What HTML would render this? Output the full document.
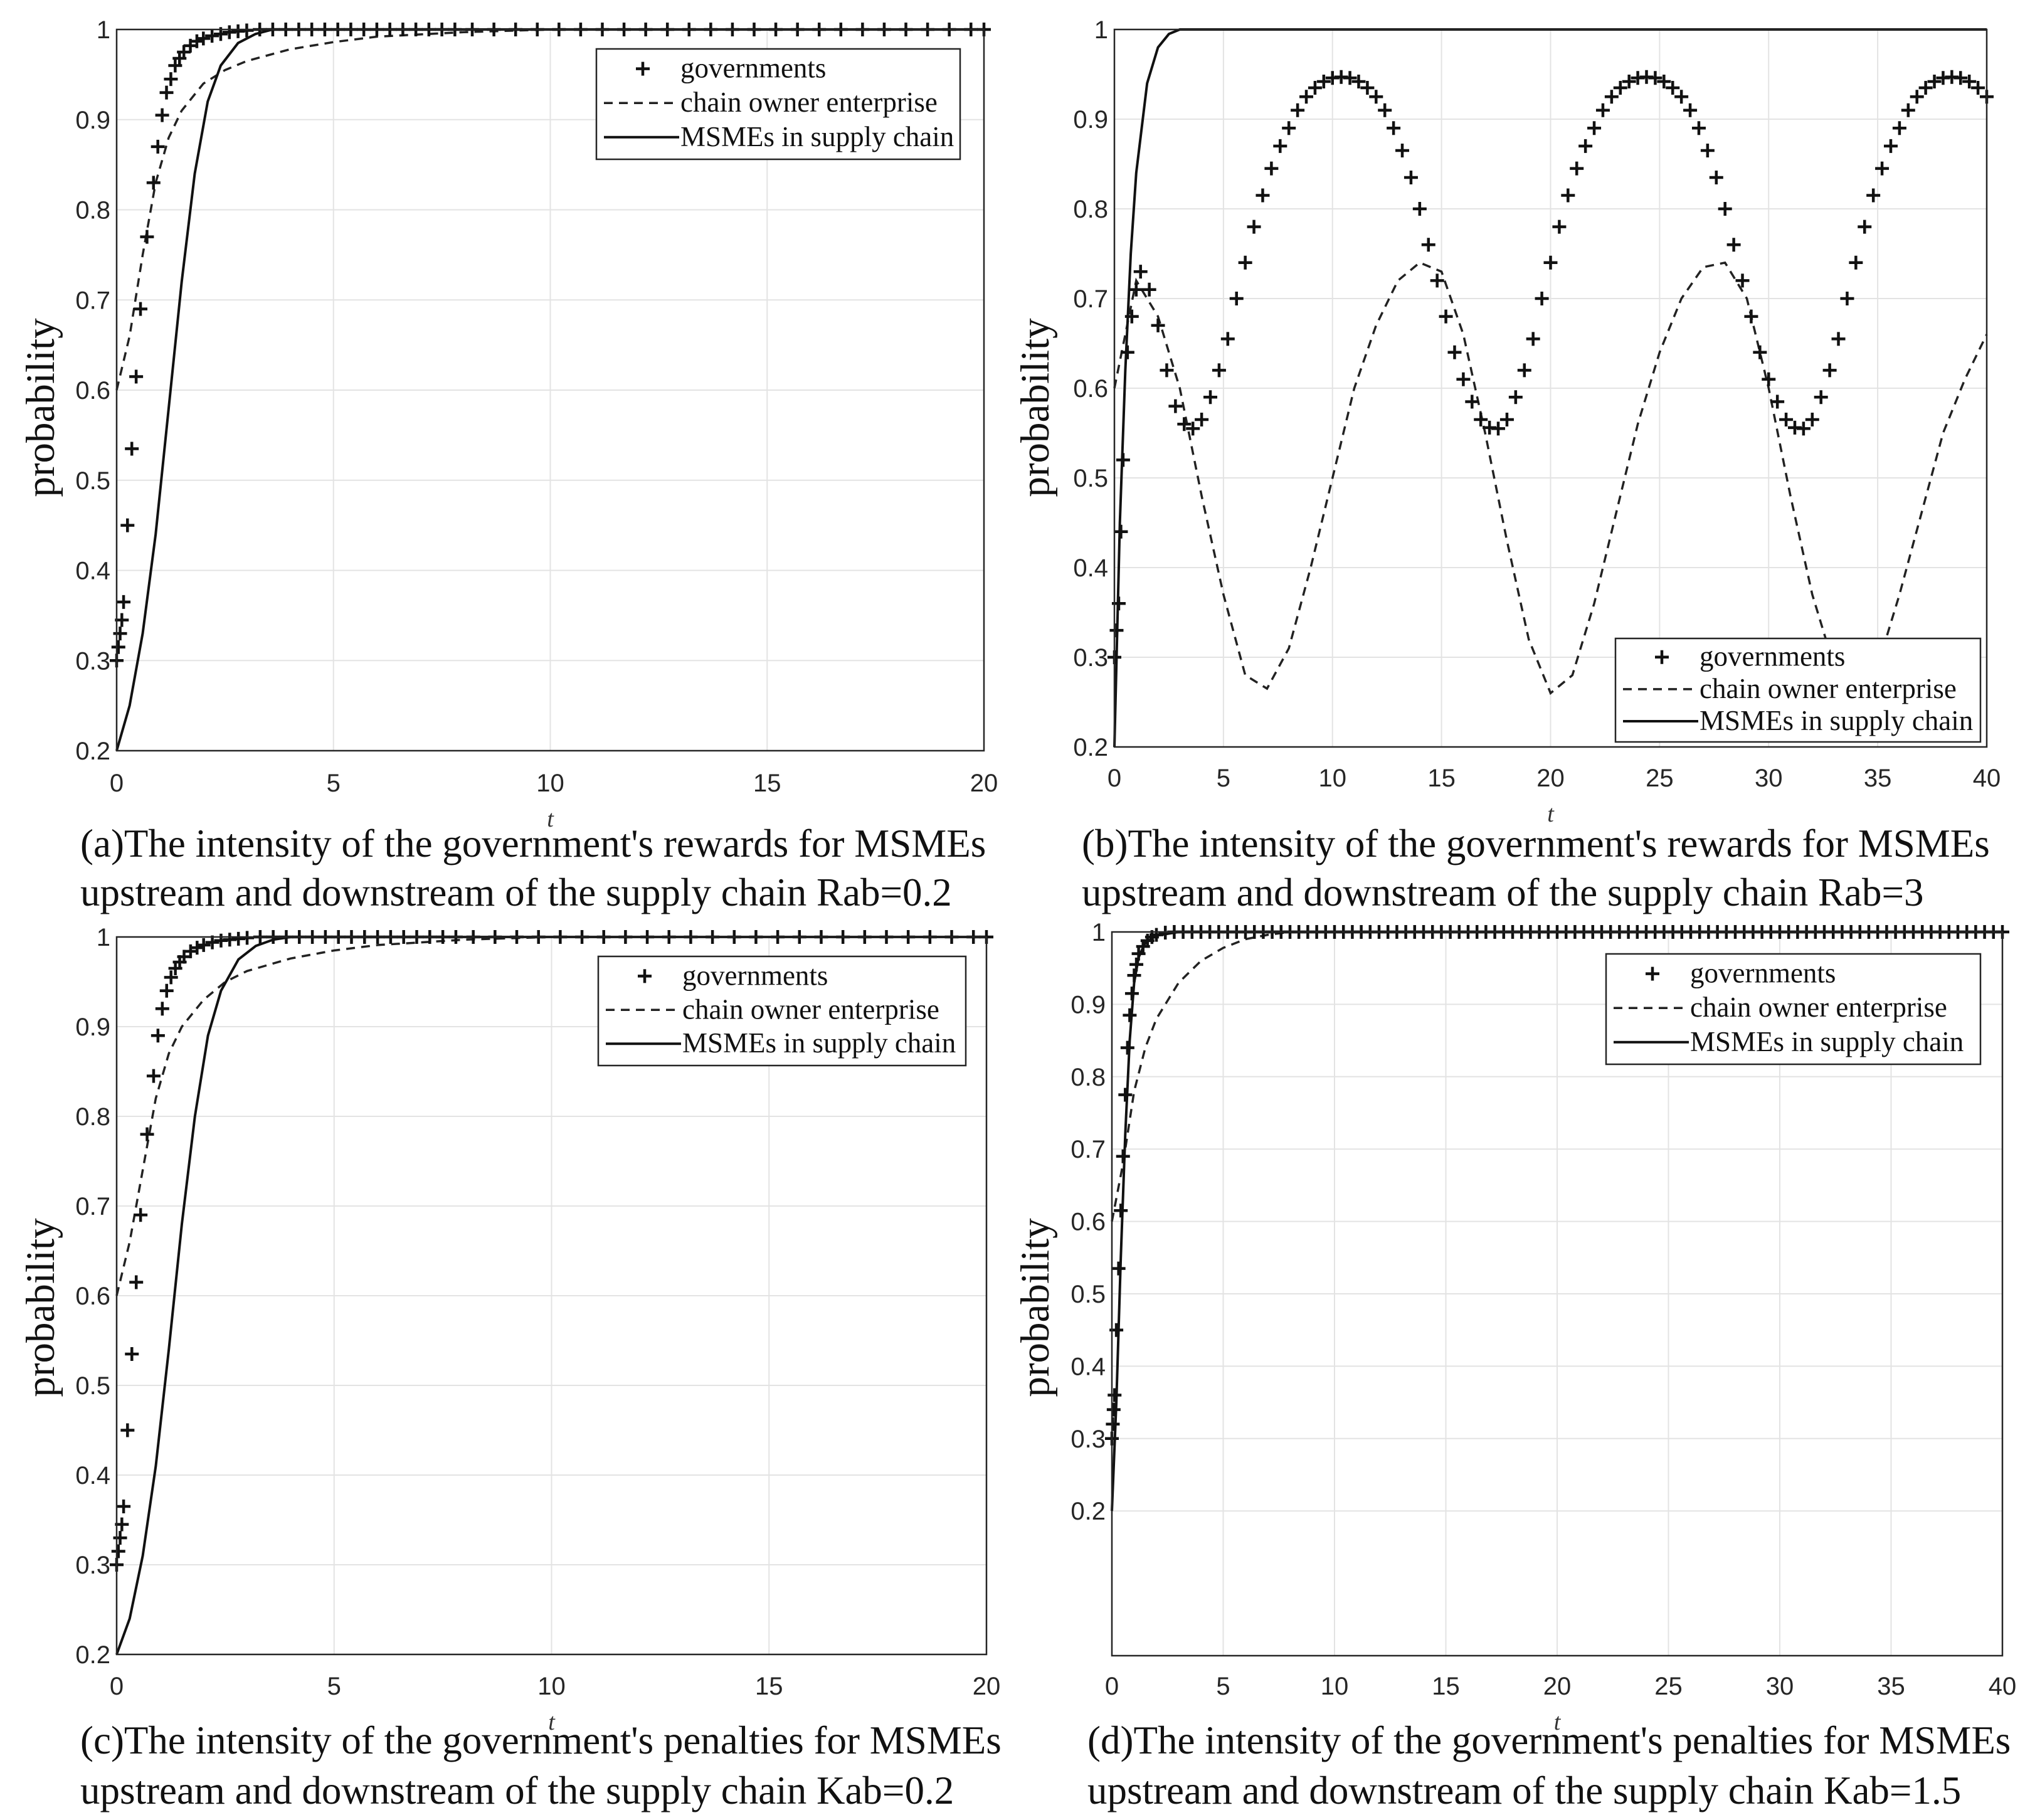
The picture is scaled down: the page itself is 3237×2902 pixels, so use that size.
<!DOCTYPE html>
<html><head><meta charset="utf-8">
<style>
html,body{margin:0;padding:0;background:#fff;}
svg{display:block;}
.tick{font-family:"Liberation Sans",sans-serif;font-size:40px;fill:#262626;}
.cap{font-family:"Liberation Serif",serif;font-size:63px;fill:#111;}
.ylab{font-family:"Liberation Serif",serif;font-size:65px;fill:#111;}
.tlab{font-family:"Liberation Serif",serif;font-size:38px;font-style:italic;fill:#333;}
.leg{font-family:"Liberation Serif",serif;font-size:45px;fill:#111;}
</style></head>
<body>
<svg id="fig" width="3237" height="2902" viewBox="0 0 3237 2902" xmlns="http://www.w3.org/2000/svg"></svg>
<script>
// ---------- Data ----------
// Panel (a) Rab=0.2
const aGovT = [0,0.04,0.08,0.12,0.16,0.25,0.35,0.45,0.55,0.7,0.85,0.95,1.05,1.15,1.25,1.35,1.45,1.55,1.7,1.85,2.0,2.2,2.4,2.6,2.8,3.0,3.3,3.6,3.9,4.2,4.5,4.8,5.1,5.4,5.7,6.0,6.3,6.6,6.9,7.2,7.5,7.8,8.2,8.7,9.2,9.7,10.2,10.7,11.2,11.7,12.2,12.7,13.2,13.7,14.2,14.7,15.2,15.7,16.2,16.7,17.2,17.7,18.2,18.7,19.2,19.7,20];
const aGovV = [0.30,0.315,0.33,0.345,0.365,0.45,0.535,0.615,0.69,0.77,0.83,0.87,0.905,0.93,0.945,0.96,0.968,0.975,0.982,0.987,0.99,0.993,0.995,0.997,0.998,0.999,1,1,1,1,1,1,1,1,1,1,1,1,1,1,1,1,1,1,1,1,1,1,1,1,1,1,1,1,1,1,1,1,1,1,1,1,1,1,1,1,1];
const aOwnT = [0,0.3,0.6,0.9,1.2,1.5,2,2.5,3,4,5,6,8,10,20];
const aOwnV = [0.6,0.66,0.75,0.83,0.88,0.91,0.94,0.955,0.965,0.978,0.986,0.992,0.997,1,1];
const aMsT = [0,0.3,0.6,0.9,1.2,1.5,1.8,2.1,2.4,2.8,3.2,3.6,20];
const aMsV = [0.2,0.25,0.33,0.44,0.58,0.72,0.84,0.92,0.96,0.985,0.995,1,1];

// Panel (b) Rab=3
const bGovT = [0,0.1,0.2,0.3,0.4,0.6,0.8,1.0,1.2,1.6,2.0,2.4,2.8,3.2,3.6,4.0,4.4,4.8,5.2,5.6,6.0,6.4,6.8,7.2,7.6,8.0,8.4,8.8,9.2,9.6,10.0,10.4,10.8,11.2,11.6,12.0,12.4,12.8,13.2,13.6,14.0,14.4,14.8,15.2,15.6,16.0,16.4,16.8,17.2,17.6,18.0,18.4,18.8,19.2,19.6,20.0,20.4,20.8,21.2,21.6,22.0,22.4,22.8,23.2,23.6,24.0,24.4,24.8,25.2,25.6,26.0,26.4,26.8,27.2,27.6,28.0,28.4,28.8,29.2,29.6,30.0,30.4,30.8,31.2,31.6,32.0,32.4,32.8,33.2,33.6,34.0,34.4,34.8,35.2,35.6,36.0,36.4,36.8,37.2,37.6,38.0,38.4,38.8,39.2,39.6,40.0];
const bGovV = [0.30,0.33,0.36,0.44,0.52,0.64,0.68,0.71,0.73,0.71,0.67,0.62,0.58,0.56,0.555,0.565,0.59,0.62,0.655,0.70,0.74,0.78,0.815,0.845,0.87,0.89,0.91,0.925,0.935,0.942,0.946,0.947,0.946,0.942,0.935,0.925,0.91,0.89,0.865,0.835,0.80,0.76,0.72,0.68,0.64,0.61,0.585,0.565,0.556,0.555,0.565,0.59,0.62,0.655,0.70,0.74,0.78,0.815,0.845,0.87,0.89,0.91,0.925,0.935,0.942,0.946,0.947,0.946,0.942,0.935,0.925,0.91,0.89,0.865,0.835,0.80,0.76,0.72,0.68,0.64,0.61,0.585,0.565,0.556,0.555,0.565,0.59,0.62,0.655,0.70,0.74,0.78,0.815,0.845,0.87,0.89,0.91,0.925,0.935,0.942,0.946,0.947,0.946,0.942,0.935,0.925];
const bOwnT = [0,1,2,3,4,5,6,7,8,9,10,11,12,13,14,15,16,17,18,19,20,21,22,23,24,25,26,27,28,29,30,31,32,33,34,35,36,37,38,39,40];
const bOwnV = [0.6,0.72,0.68,0.6,0.48,0.37,0.28,0.265,0.31,0.40,0.50,0.60,0.67,0.72,0.74,0.73,0.66,0.55,0.43,0.32,0.26,0.28,0.36,0.46,0.56,0.64,0.70,0.735,0.74,0.70,0.60,0.48,0.37,0.29,0.26,0.29,0.37,0.46,0.55,0.61,0.66];
const bMsT = [0,0.25,0.5,0.75,1,1.5,2,2.5,3,40];
const bMsV = [0.2,0.45,0.62,0.75,0.84,0.94,0.98,0.995,1,1];

// Panel (c) Kab=0.2
const cGovT = aGovT;
const cGovV = [0.30,0.315,0.33,0.345,0.365,0.45,0.535,0.615,0.69,0.78,0.845,0.89,0.92,0.94,0.955,0.965,0.972,0.978,0.984,0.988,0.991,0.994,0.996,0.997,0.998,0.999,1,1,1,1,1,1,1,1,1,1,1,1,1,1,1,1,1,1,1,1,1,1,1,1,1,1,1,1,1,1,1,1,1,1,1,1,1,1,1,1,1];
const cOwnT = aOwnT;
const cOwnV = [0.6,0.66,0.74,0.82,0.87,0.9,0.93,0.95,0.962,0.976,0.985,0.991,0.997,1,1];
const cMsT = [0,0.3,0.6,0.9,1.2,1.5,1.8,2.1,2.4,2.8,3.2,3.6,4.0,20];
const cMsV = [0.2,0.24,0.31,0.41,0.54,0.68,0.8,0.89,0.94,0.975,0.99,0.997,1,1];

// Panel (d) Kab=1.5
const dGovT = [0,0.04,0.08,0.12,0.2,0.3,0.4,0.5,0.6,0.7,0.8,0.9,1.0,1.1,1.2,1.4,1.6,1.8,2.0,2.4,2.8,3.2,3.6,4.0,4.4,4.8,5.2,5.6,6.0,6.4,6.8,7.2,7.6,8.0,8.4,8.8,9.2,9.6,10.0,10.4,10.8,11.2,11.6,12.0,12.4,12.8,13.2,13.6,14.0,14.4,14.8,15.2,15.6,16.0,16.4,16.8,17.2,17.6,18.0,18.4,18.8,19.2,19.6,20.0,20.4,20.8,21.2,21.6,22.0,22.4,22.8,23.2,23.6,24.0,24.4,24.8,25.2,25.6,26.0,26.4,26.8,27.2,27.6,28.0,28.4,28.8,29.2,29.6,30.0,30.4,30.8,31.2,31.6,32.0,32.4,32.8,33.2,33.6,34.0,34.4,34.8,35.2,35.6,36.0,36.4,36.8,37.2,37.6,38.0,38.4,38.8,39.2,39.6,40.0];
const dGovV = [0.30,0.32,0.34,0.36,0.45,0.535,0.615,0.69,0.775,0.84,0.885,0.915,0.94,0.955,0.97,0.98,0.988,0.993,0.996,0.999,1,1,1,1,1,1,1,1,1,1,1,1,1,1,1,1,1,1,1,1,1,1,1,1,1,1,1,1,1,1,1,1,1,1,1,1,1,1,1,1,1,1,1,1,1,1,1,1,1,1,1,1,1,1,1,1,1,1,1,1,1,1,1,1,1,1,1,1,1,1,1,1,1,1,1,1,1,1,1,1,1,1,1,1,1,1,1,1,1,1,1,1,1,1];
const dOwnT = [0,0.5,1,1.5,2,3,4,5,6,7,8,40];
const dOwnV = [0.6,0.68,0.78,0.84,0.88,0.93,0.96,0.978,0.99,0.996,1,1];
const dMsT = [0,0.2,0.4,0.6,0.8,1.0,1.2,1.5,2,3,40];
const dMsV = [0.2,0.35,0.55,0.72,0.85,0.93,0.965,0.985,0.995,1,1];

const yTicks = [0.2,0.3,0.4,0.5,0.6,0.7,0.8,0.9,1];
const yTickLabels = ["0.2","0.3","0.4","0.5","0.6","0.7","0.8","0.9","1"];
const xTicks20 = [0,5,10,15,20];
const xTicks40 = [0,5,10,15,20,25,30,35,40];
const legendLabels = ["governments","chain owner enterprise","MSMEs  in supply chain"];

// ---------- Drawing ----------
const NS = "http://www.w3.org/2000/svg";
const svg = document.getElementById('fig');
function mk(tag, attrs, parent){const e=document.createElementNS(NS,tag);for(const k in attrs)e.setAttribute(k,attrs[k]);(parent||svg).appendChild(e);return e;}

function panel(p){
  const g = mk('g',{});
  
  
  const sx = v => p.x0 + (v - p.xmin)/(p.xmax-p.xmin)*(p.x1-p.x0);
  const sy = v => p.y1 - (v - p.ymin)/(p.ymax-p.ymin)*(p.y1-p.y0);
  mk('rect',{x:p.x0,y:p.y0,width:p.x1-p.x0,height:p.y1-p.y0,fill:'#fff'},g);
  p.xt.forEach(v=>{const l=mk('line',{x1:sx(v),x2:sx(v),y1:p.y0,y2:p.y1,stroke:'#e3e3e3','stroke-width':2},g);
    });
  yTicks.forEach(v=>{const l=mk('line',{x1:p.x0,x2:p.x1,y1:sy(v),y2:sy(v),stroke:'#e3e3e3','stroke-width':2},g);
    });
  p.xt.forEach(v=>{const t=mk('text',{x:sx(v),y:p.xlabY,'text-anchor':'middle',class:'tick'},g);t.textContent=String(v);
    });
  yTicks.forEach((v,i)=>{const t=mk('text',{x:p.x0-10,y:sy(v)+14,'text-anchor':'end',class:'tick'},g);t.textContent=yTickLabels[i];
    });
  const plotG = mk('g',{},g);
  const path = (T,V)=>T.map((t,i)=>(i?'L':'M')+sx(t).toFixed(1)+' '+sy(V[i]).toFixed(1)).join(' ');
  const own = mk('path',{d:path(p.ownT,p.ownV),fill:'none',stroke:'#222','stroke-width':3.5,'stroke-dasharray':'14 10'},plotG);
  
  const ms = mk('path',{d:path(p.msT,p.msV),fill:'none',stroke:'#111','stroke-width':4},plotG);
  
  p.govT.forEach((t,i)=>{
    const cx=sx(t), cy=sy(p.govV[i]), s=11;
    const m=mk('path',{d:`M${cx-s} ${cy}H${cx+s}M${cx} ${cy-s}V${cy+s}`,stroke:'#111','stroke-width':4.5},plotG);
    
  });
  const box=mk('rect',{x:p.x0,y:p.y0,width:p.x1-p.x0,height:p.y1-p.y0,fill:'none',stroke:'#262626','stroke-width':2.5},g);
  
  const L=p.leg;
  const lg=mk('g',{},g);
  
  mk('rect',{x:L.x,y:L.y,width:L.w,height:L.h,fill:'#fff',stroke:'#262626','stroke-width':2.5},lg);
  const rows=[L.y+L.h*0.18,L.y+L.h*0.49,L.y+L.h*0.8];
  const mx=L.x+74;
  mk('path',{d:`M${mx-11} ${rows[0]}H${mx+11}M${mx} ${rows[0]-11}V${rows[0]+11}`,stroke:'#111','stroke-width':4.5},lg);
  mk('line',{x1:L.x+12,x2:L.x+128,y1:rows[1],y2:rows[1],stroke:'#222','stroke-width':3.5,'stroke-dasharray':'14 10'},lg);
  mk('line',{x1:L.x+12,x2:L.x+132,y1:rows[2],y2:rows[2],stroke:'#111','stroke-width':4},lg);
  legendLabels.forEach((s,i)=>{const t=mk('text',{x:L.x+134,y:rows[i]+14,class:'leg'},lg);t.textContent=s;
    });
  const tl=mk('text',{x:(p.x0+p.x1)/2,y:p.xlabY+56,'text-anchor':'middle',class:'tlab'},g);tl.textContent='t';
  
  const yl=mk('text',{x:0,y:0,'text-anchor':'middle',class:'ylab',transform:`translate(${p.ylx},${p.yly}) rotate(-90)`},g);yl.textContent='probability';
  
  const c1=mk('text',{x:p.capX,y:p.capY1,class:'cap'},g);c1.textContent=p.cap1;
  
  const c2=mk('text',{x:p.capX,y:p.capY2,class:'cap'},g);c2.textContent=p.cap2;
  
}

panel({id:'a',x0:186,x1:1569,y0:47,y1:1197,xmin:0,xmax:20,ymin:0.2,ymax:1,xt:xTicks20,xlabY:1262,
  govT:aGovT,govV:aGovV,ownT:aOwnT,ownV:aOwnV,msT:aMsT,msV:aMsV,
  leg:{x:951,y:78,w:580,h:176},ylx:86,yly:650,capX:128,capY1:1366,capY2:1444,
  cap1:"(a)The intensity of the government's rewards for MSMEs",cap2:"upstream and downstream of the supply chain Rab=0.2"});
panel({id:'b',x0:1777,x1:3168,y0:47,y1:1191,xmin:0,xmax:40,ymin:0.2,ymax:1,xt:xTicks40,xlabY:1254,
  govT:bGovT,govV:bGovV,ownT:bOwnT,ownV:bOwnV,msT:bMsT,msV:bMsV,
  leg:{x:2576,y:1018,w:582,h:165},ylx:1672,yly:650,capX:1725,capY1:1366,capY2:1444,
  cap1:"(b)The intensity of the government's rewards for MSMEs",cap2:"upstream and downstream of the supply chain Rab=3"});
panel({id:'c',x0:186,x1:1573,y0:1494,y1:2638,xmin:0,xmax:20,ymin:0.2,ymax:1,xt:xTicks20,xlabY:2702,
  govT:cGovT,govV:cGovV,ownT:cOwnT,ownV:cOwnV,msT:cMsT,msV:cMsV,
  leg:{x:954,y:1525,w:586,h:174},ylx:86,yly:2085,capX:128,capY1:2796,capY2:2876,
  cap1:"(c)The intensity of the government's penalties for MSMEs",cap2:"upstream and downstream of the supply chain Kab=0.2"});
panel({id:'d',x0:1773,x1:3193,y0:1486,y1:2640,xmin:0,xmax:40,ymin:0,ymax:1,xt:xTicks40,xlabY:2702,
  govT:dGovT,govV:dGovV,ownT:dOwnT,ownV:dOwnV,msT:dMsT,msV:dMsV,
  leg:{x:2561,y:1521,w:597,h:176},ylx:1672,yly:2085,capX:1734,capY1:2796,capY2:2876,
  cap1:"(d)The intensity of the government's penalties for MSMEs",cap2:"upstream and downstream of the supply chain Kab=1.5"});
</script>
</body></html>
